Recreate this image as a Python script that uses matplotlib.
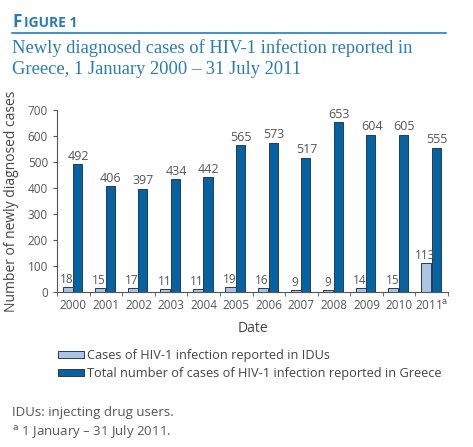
import numpy as np
import matplotlib
matplotlib.use("Agg")
from matplotlib import pyplot as plt
from matplotlib.patches import Patch

# data
years = ["2000", "2001", "2002", "2003", "2004", "2005", "2006",
         "2007", "2008", "2009", "2010", "2011$^{\\mathrm{a}}$"]
idu_cases = [18, 15, 17, 11, 11, 19, 16, 9, 9, 14, 15, 113]
total_cases = [492, 406, 397, 434, 442, 565, 573, 517, 653, 604, 605, 555]

light = "#a9c5e3"
dark = "#0663a3"
edge = "#2a3a4a"
grey = "#555555"
blue = "#2a7cb8"

plt.rcParams['font.family'] = ['Open Sans', 'DejaVu Sans']

W, H = 473, 447
fig = plt.figure(figsize=(W / 100, H / 100), dpi=100)

def px(x0, y0, x1, y1):
    # pixel box (top-left origin) -> figure fraction
    return [x0 / W, 1 - y1 / H, (x1 - x0) / W, (y1 - y0) / H]

# header
fig.text(12 / W, 1 - 27 / H, "F", fontsize=12.5, fontweight="bold", color=blue, family="Open Sans")
fig.text(23.5 / W, 1 - 27 / H, "IGURE 1", fontsize=10, fontweight="bold", color=blue, family="Open Sans")
fig.add_artist(plt.Line2D([12 / W, 446 / W], [1 - 33 / H, 1 - 33 / H], color=blue, lw=1.2))
fig.text(12 / W, 1 - 53 / H, "Newly diagnosed cases of HIV-1 infection reported in",
         fontsize=13.3, color=blue, family="Liberation Serif")
fig.text(12 / W, 1 - 74 / H, "Greece, 1 January 2000 \u2013 31 July 2011",
         fontsize=13.3, color=blue, family="Liberation Serif")

ax = fig.add_axes(px(57, 110, 448, 292))
x = np.arange(len(years))
bw = 0.31
ax.bar(x - bw / 2 - 0.02, idu_cases, bw, color=light, edgecolor=edge, linewidth=0.7)
ax.bar(x + bw / 2 - 0.02, total_cases, bw * 0.9, color=dark, edgecolor=edge, linewidth=0.7)

for i in range(len(years)):
    ax.text(x[i] - bw / 2 - 0.05, idu_cases[i] + 4, str(idu_cases[i]), ha="center", va="bottom",
            fontsize=8.5, color=grey)
    ax.text(x[i] + bw / 2, total_cases[i] + 6, str(total_cases[i]), ha="center", va="bottom",
            fontsize=9, color=grey)

ax.set_xlim(-0.5, len(years) - 0.5)
ax.set_ylim(0, 700)
ax.set_yticks(range(0, 701, 100))
ax.set_xticks(x)
ax.set_xticklabels(years)
ax.set_xticks(np.arange(-0.5, len(years), 1), minor=True)
ax.tick_params(axis="x", which="major", length=0, labelsize=8.5, labelcolor=grey, pad=5)
ax.tick_params(axis="x", which="minor", length=3, color=grey, direction="out")
ax.tick_params(axis="y", length=3, color=grey, labelsize=8.5, labelcolor=grey)
for s in ["top", "right"]:
    ax.spines[s].set_visible(False)
for s in ["left", "bottom"]:
    ax.spines[s].set_color(grey)
    ax.spines[s].set_linewidth(0.8)
ax.set_ylabel("Number of newly diagnosed cases", fontsize=10, color="#444444", labelpad=6)
ax.set_xlabel("Date", fontsize=10, color="#444444", labelpad=6)

handles = [Patch(facecolor=light, edgecolor=edge, linewidth=0.7),
           Patch(facecolor=dark, edgecolor=edge, linewidth=0.7)]
labels = ["Cases of HIV-1 infection reported in IDUs",
          "Total number of cases of HIV-1 infection reported in Greece"]
fig.legend(handles, labels, loc="upper left", bbox_to_anchor=(52 / W, 1 - 343 / H),
           frameon=False, fontsize=9.2, handlelength=2.0, handleheight=0.45,
           handletextpad=0.25, labelspacing=0.35, borderpad=0, labelcolor="#444444")

fig.text(12 / W, 1 - 416 / H, "IDUs: injecting drug users.", fontsize=9.5, color=grey)
fig.text(12 / W, 1 - 435 / H, "$^{\\mathrm{a}}$ 1 January \u2013 31 July 2011.", fontsize=9.5, color=grey)

fig.savefig("out.png", dpi=100)
